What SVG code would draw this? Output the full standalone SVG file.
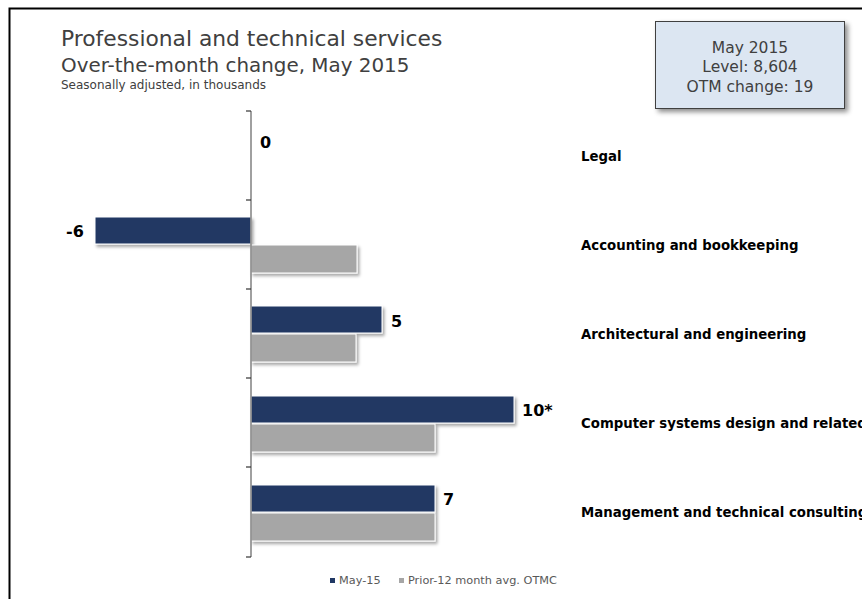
<svg xmlns="http://www.w3.org/2000/svg" width="862" height="599" viewBox="0 0 862 599">
  <style>
    .title { font-family: "DejaVu Sans", Verdana, sans-serif; fill: #404040; }
    .val { font-family: "DejaVu Sans", Verdana, sans-serif; font-weight: bold; font-size: 16px; fill: #000; }
    .cat { font-family: "DejaVu Sans", Verdana, sans-serif; font-weight: bold; font-size: 13.3px; fill: #000; }
    .box { font-family: "DejaVu Sans", Verdana, sans-serif; font-size: 15.5px; fill: #404040; text-anchor: middle; }
    .leg { font-family: "DejaVu Sans", Verdana, sans-serif; font-size: 11.3px; fill: #595959; }
    .navy { fill: #203864; stroke: #ffffff; stroke-width: 1; filter: url(#shadow); }
    .gray { fill: #a6a6a6; stroke: #ffffff; stroke-width: 1; filter: url(#shadow); }
    .axis { stroke: #808080; stroke-width: 1.5; fill: none; }
    .tick { stroke: #333333; stroke-width: 1.2; }
  </style>
  <defs>
    <filter id="shadow" x="-10%" y="-20%" width="130%" height="160%">
      <feDropShadow dx="2" dy="2.5" stdDeviation="1.5" flood-color="#000" flood-opacity="0.35"/>
    </filter>
    <filter id="boxshadow" x="-10%" y="-10%" width="130%" height="140%">
      <feDropShadow dx="3" dy="3" stdDeviation="2.5" flood-color="#000" flood-opacity="0.45"/>
    </filter>
  </defs>
  <rect width="862" height="599" fill="#ffffff"/>
  <path d="M9.5 599 V8.5 H862" fill="none" stroke="#000" stroke-width="2"/>

  <g id="title">
    <text class="title" x="61" y="46" font-size="21.8">Professional and technical services</text>
    <text class="title" x="61" y="72" font-size="19.9">Over-the-month change, May 2015</text>
    <text class="title" x="61" y="89" font-size="12">Seasonally adjusted, in thousands</text>
  </g>

  <g id="infobox">
    <rect x="655.5" y="21.5" width="189" height="87" fill="#dce6f2" stroke="#404040" stroke-width="1" filter="url(#boxshadow)"/>
    <text class="box" x="750" y="53">May 2015</text>
    <text class="box" x="750" y="72">Level: 8,604</text>
    <text class="box" x="750" y="92">OTM change: 19</text>
  </g>

  <g id="bar-legal">
    <text class="val" x="260" y="148">0</text>
    <text class="cat" x="581" y="161">Legal</text>
  </g>
  <g id="bar-accounting">
    <rect class="navy" x="95" y="217" width="156" height="27"/>
    <rect class="gray" x="251" y="245" width="106" height="28"/>
    <text class="val" x="66" y="237">-6</text>
    <text class="cat" x="581" y="250">Accounting and bookkeeping</text>
  </g>
  <g id="bar-architectural">
    <rect class="navy" x="251" y="306" width="131" height="27"/>
    <rect class="gray" x="251" y="334" width="105" height="28"/>
    <text class="val" x="391" y="327">5</text>
    <text class="cat" x="581" y="339">Architectural and engineering</text>
  </g>
  <g id="bar-computer">
    <rect class="navy" x="251" y="396" width="263" height="27"/>
    <rect class="gray" x="251" y="424" width="184" height="28"/>
    <text class="val" x="522" y="416">10*</text>
    <text class="cat" x="581" y="428">Computer systems design and related</text>
  </g>
  <g id="bar-management">
    <rect class="navy" x="251" y="485" width="184" height="27"/>
    <rect class="gray" x="251" y="513" width="184" height="28"/>
    <text class="val" x="443" y="505">7</text>
    <text class="cat" x="581" y="517">Management and technical consulting</text>
  </g>

  <g id="axis">
    <line class="axis" x1="251" y1="111" x2="251" y2="557"/>
    <line class="tick" x1="246" y1="111" x2="251" y2="111"/>
    <line class="tick" x1="246" y1="200" x2="251" y2="200"/>
    <line class="tick" x1="246" y1="289" x2="251" y2="289"/>
    <line class="tick" x1="246" y1="378" x2="251" y2="378"/>
    <line class="tick" x1="246" y1="467" x2="251" y2="467"/>
    <line class="tick" x1="246" y1="557" x2="251" y2="557"/>
  </g>

  <g id="legend">
    <rect x="330" y="578" width="5" height="5" fill="#203864"/>
    <text class="leg" x="339" y="584">May-15</text>
    <rect x="399" y="578" width="5" height="5" fill="#a6a6a6"/>
    <text class="leg" x="408" y="584">Prior-12 month avg. OTMC</text>
  </g>
</svg>
